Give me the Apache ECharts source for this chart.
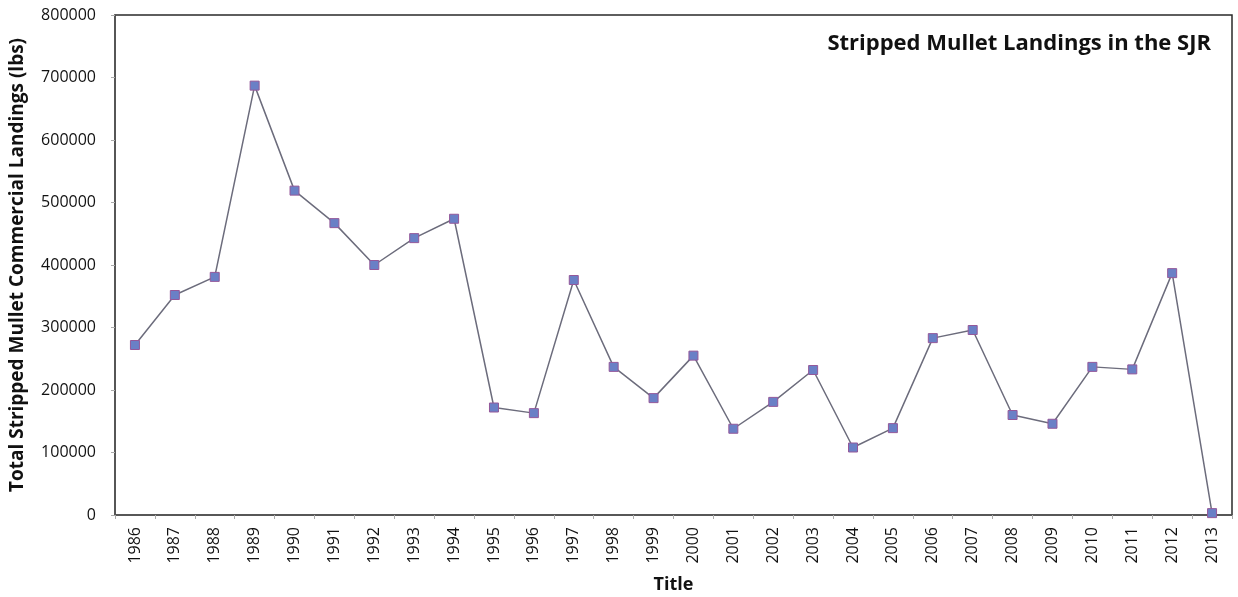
<!DOCTYPE html>
<html>
<head>
<meta charset="utf-8">
<script src="https://cdn.jsdelivr.net/npm/echarts@6/dist/echarts.min.js"></script>
<style>
html,body{margin:0;padding:0;background:#ffffff;}
#chart{width:1238px;height:597px;}
</style>
</head>
<body>
<div id="chart"></div>
<script>
const years = ['1986','1987','1988','1989','1990','1991','1992','1993','1994','1995','1996','1997','1998','1999','2000','2001','2002','2003','2004','2005','2006','2007','2008','2009','2010','2011','2012','2013'];
const landings = [272000,352000,381000,687000,519000,467000,400000,443000,474000,172000,163000,376000,237000,187000,255000,138000,181000,232000,108000,139000,283000,296000,160000,146000,237000,233000,387000,3000];
const yTicks = [0,100000,200000,300000,400000,500000,600000,700000,800000];

const chart = echarts.init(document.getElementById('chart'));
const font = '"Open Sans", sans-serif';
chart.setOption({
  backgroundColor: '#ffffff',
  animation: false,
  title: {
    text: 'Stripped Mullet Landings in the SJR',
    right: 22,
    top: 28,
    textStyle: {fontFamily: font, fontWeight: 'bold', fontSize: 22, color: '#111'}
  },
  grid: {
    left: 115, right: 6, top: 15, bottom: 82,
    outerBoundsMode: 'none',
    containLabel: false,
    show: true, borderColor: '#2a2a2a', borderWidth: 1.5, backgroundColor: 'transparent'
  },
  xAxis: {
    type: 'category',
    data: years,
    boundaryGap: true,
    name: 'Title',
    nameLocation: 'middle',
    nameGap: 61,
    nameTextStyle: {fontFamily: font, fontWeight: 'bold', fontSize: 18, color: '#111'},
    axisLine: {lineStyle: {color: '#555', width: 1.5}},
    axisTick: {show: true, alignWithLabel: false, length: 4, lineStyle: {color: '#aaa'}},
    axisLabel: {rotate: 90, margin: 12, fontFamily: font, fontSize: 16, color: '#111'},
    splitLine: {show: false}
  },
  yAxis: {
    type: 'value',
    min: yTicks[0],
    max: yTicks[yTicks.length - 1],
    interval: yTicks[1] - yTicks[0],
    name: 'Total Stripped Mullet Commercial Landings (lbs)',
    nameLocation: 'middle',
    nameGap: 88,
    nameTextStyle: {fontFamily: font, fontWeight: 'bold', fontSize: 19, color: '#111'},
    axisLine: {show: true, lineStyle: {color: '#555', width: 1.5}},
    axisTick: {show: true, length: 4, lineStyle: {color: '#aaa'}},
    axisLabel: {margin: 19, fontFamily: font, fontSize: 16, color: '#111', formatter: function (v) { return String(v); }},
    splitLine: {show: false}
  },
  series: [{
    type: 'line',
    data: landings,
    symbol: 'rect',
    symbolSize: 9,
    lineStyle: {color: '#6c6c7c', width: 1.5},
    itemStyle: {color: '#6a80c6', borderColor: '#94589a', borderWidth: 1}
  }]
});
</script>
</body>
</html>
